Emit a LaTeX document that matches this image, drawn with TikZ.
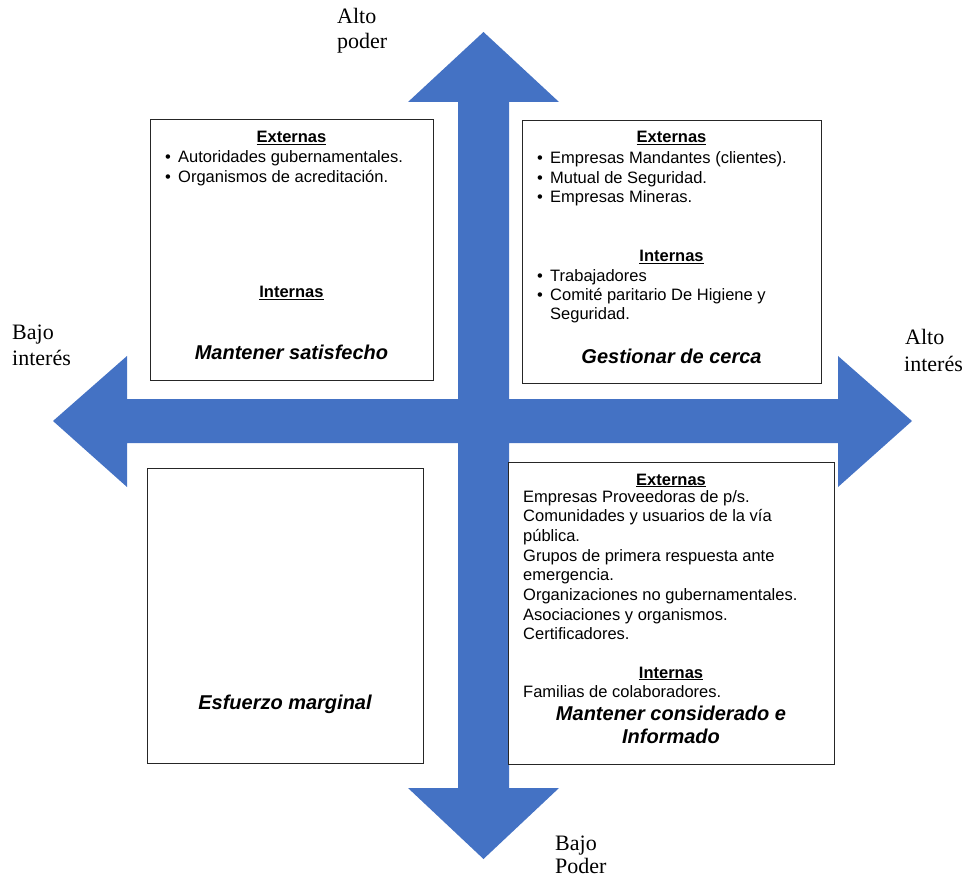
\documentclass[tikz,border=0pt]{standalone}
\usepackage{fontspec}
\setmainfont{Liberation Sans}
\newfontfamily\axisfont{Liberation Serif}
\definecolor{axisblue}{HTML}{4472C4}
\tikzset{
  quad/.style={draw=black!85, line width=1.1pt, fill=white, inner sep=0pt, anchor=north west},
  txt/.style={inner sep=0pt, anchor=base west, font=\fontsize{16.5}{19.7}\selectfont},
  head/.style={inner sep=0pt, anchor=base, font=\fontsize{16.5}{19.7}\selectfont\bfseries},
  goal/.style={inner sep=0pt, anchor=base, font=\fontsize{20}{22}\selectfont\bfseries\itshape},
  axislbl/.style={inner sep=0pt, anchor=base west, font=\fontsize{22}{25}\selectfont\axisfont},
}
\newcommand{\bulletmark}{\makebox[13pt][l]{\textbullet}}
\begin{document}
\begin{tikzpicture}[x=1pt,y=-1pt]
            \useasboundingbox (0,0) rectangle (967,877);
            % axes
            \fill[axisblue] (483.5,32) -- (559,102) -- (509,102) -- (509,399) -- (838,399)
              -- (838,356) -- (912,421) -- (838,487) -- (838,443) -- (509,443) -- (509,788)
              -- (559,788) -- (483.5,859) -- (408,788) -- (458,788) -- (458,443) -- (127,443)
              -- (127,487) -- (53,421) -- (127,356) -- (127,399) -- (458,399) -- (458,102)
              -- (408,102) -- cycle;
            % axis labels
            \node[axislbl] (altopoder1) at (337,24) {Alto};
            \node[axislbl] (altopoder2) at (337,49) {poder};
            \node[axislbl] (bajointeres1) at (12,340) {Bajo};
            \node[axislbl] (bajointeres2) at (12,366) {interés};
            \node[axislbl] (altointeres1) at (905,345) {Alto};
            \node[axislbl] (altointeres2) at (904,371) {interés};
            \node[axislbl] (bajopoder1) at (555,850) {Bajo};
            \node[axislbl] (bajopoder2) at (555,873) {Poder};
            % quadrants
            \node[quad, minimum width=283pt, minimum height=261pt] (satisfecho) at (150,119) {};
            \node[quad, minimum width=299pt, minimum height=263pt] (cerca) at (522,120) {};
            \node[quad, minimum width=276pt, minimum height=295pt] (marginal) at (147,468) {};
            \node[quad, minimum width=326pt, minimum height=302pt] (considerado) at (508,462) {};
            % mantener satisfecho
            \node[head] (satext) at (291.5,142.5) {\underline{Externas}};
            \node[txt] (sa1) at (165,163) {\bulletmark Autoridades gubernamentales.};
            \node[txt] (sa2) at (165,183) {\bulletmark Organismos de acreditación.};
            \node[head] (saint) at (291.5,298) {\underline{Internas}};
            \node[goal] (sagoal) at (291.5,360) {Mantener satisfecho};
            % gestionar de cerca
            \node[head] (ceext) at (671.5,143) {\underline{Externas}};
            \node[txt] (ce1) at (537,164) {\bulletmark Empresas Mandantes (clientes).};
            \node[txt] (ce2) at (537,183.5) {\bulletmark Mutual de Seguridad.};
            \node[txt] (ce3) at (537,203) {\bulletmark Empresas Mineras.};
            \node[head] (ceint) at (671.5,262) {\underline{Internas}};
            \node[txt] (ce4) at (537,282) {\bulletmark Trabajadores};
            \node[txt] (ce5) at (537,301) {\bulletmark Comité paritario De Higiene y};
            \node[txt] (ce6) at (550,320) {Seguridad.};
            \node[goal] (cegoal) at (671.5,364) {Gestionar de cerca};
            % esfuerzo marginal
            \node[goal] (magoal) at (285,709) {Esfuerzo marginal};
            % mantener considerado
            \node[head] (coext) at (671,485) {\underline{Externas}};
            \node[txt] (co1) at (523,502) {Empresas Proveedoras de p/s.};
            \node[txt] (co2) at (523,521.7) {Comunidades y usuarios de la vía};
            \node[txt] (co3) at (523,541.4) {pública.};
            \node[txt] (co4) at (523,561.1) {Grupos de primera respuesta ante};
            \node[txt] (co5) at (523,580.8) {emergencia.};
            \node[txt] (co6) at (523,600.5) {Organizaciones no gubernamentales.};
            \node[txt] (co7) at (523,620.2) {Asociaciones y organismos.};
            \node[txt] (co8) at (523,639.9) {Certificadores.};
            \node[head] (coint) at (671,678) {\underline{Internas}};
            \node[txt] (co9) at (523,697) {Familias de colaboradores.};
            \node[goal] (cogoal1) at (671,720) {Mantener considerado e};
            \node[goal] (cogoal2) at (671,743) {Informado};
\end{tikzpicture}
\end{document}
